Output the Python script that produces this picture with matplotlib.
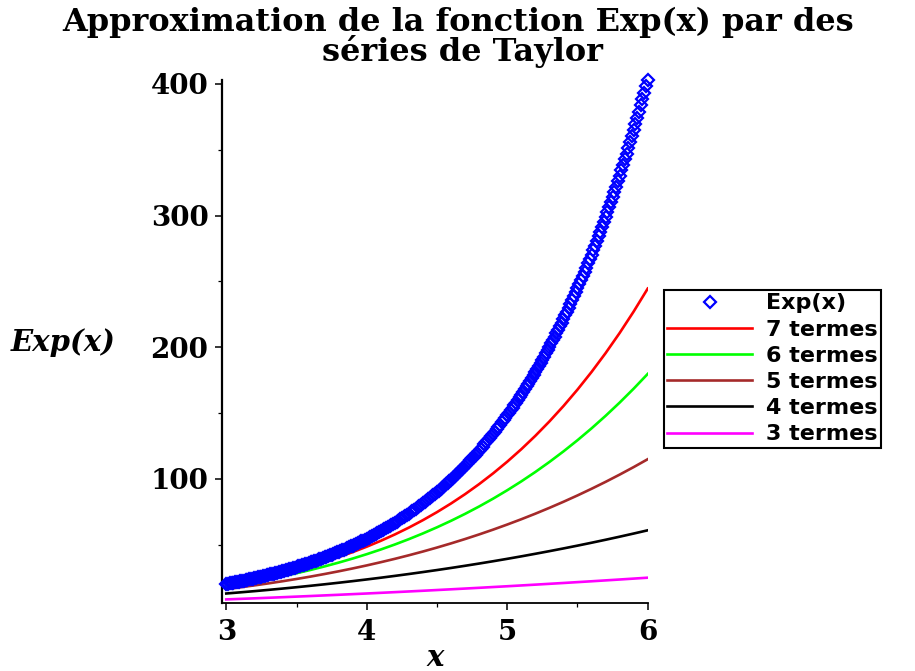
import matplotlib
matplotlib.use("Agg")
import matplotlib.pyplot as plt
from matplotlib.ticker import MultipleLocator

# Exp(x) drawn as points, one every 0.0125 in x
exp_x = [3.0, 3.0125, 3.025, 3.0375, 3.05, 3.0625, 3.075, 3.0875,
         3.1, 3.1125, 3.125, 3.1375, 3.15, 3.1625, 3.175, 3.1875,
         3.2, 3.2125, 3.225, 3.2375, 3.25, 3.2625, 3.275, 3.2875,
         3.3, 3.3125, 3.325, 3.3375, 3.35, 3.3625, 3.375, 3.3875,
         3.4, 3.4125, 3.425, 3.4375, 3.45, 3.4625, 3.475, 3.4875,
         3.5, 3.5125, 3.525, 3.5375, 3.55, 3.5625, 3.575, 3.5875,
         3.6, 3.6125, 3.625, 3.6375, 3.65, 3.6625, 3.675, 3.6875,
         3.7, 3.7125, 3.725, 3.7375, 3.75, 3.7625, 3.775, 3.7875,
         3.8, 3.8125, 3.825, 3.8375, 3.85, 3.8625, 3.875, 3.8875,
         3.9, 3.9125, 3.925, 3.9375, 3.95, 3.9625, 3.975, 3.9875,
         4.0, 4.0125, 4.025, 4.0375, 4.05, 4.0625, 4.075, 4.0875,
         4.1, 4.1125, 4.125, 4.1375, 4.15, 4.1625, 4.175, 4.1875,
         4.2, 4.2125, 4.225, 4.2375, 4.25, 4.2625, 4.275, 4.2875,
         4.3, 4.3125, 4.325, 4.3375, 4.35, 4.3625, 4.375, 4.3875,
         4.4, 4.4125, 4.425, 4.4375, 4.45, 4.4625, 4.475, 4.4875,
         4.5, 4.5125, 4.525, 4.5375, 4.55, 4.5625, 4.575, 4.5875,
         4.6, 4.6125, 4.625, 4.6375, 4.65, 4.6625, 4.675, 4.6875,
         4.7, 4.7125, 4.725, 4.7375, 4.75, 4.7625, 4.775, 4.7875,
         4.8, 4.8125, 4.825, 4.8375, 4.85, 4.8625, 4.875, 4.8875,
         4.9, 4.9125, 4.925, 4.9375, 4.95, 4.9625, 4.975, 4.9875,
         5.0, 5.0125, 5.025, 5.0375, 5.05, 5.0625, 5.075, 5.0875,
         5.1, 5.1125, 5.125, 5.1375, 5.15, 5.1625, 5.175, 5.1875,
         5.2, 5.2125, 5.225, 5.2375, 5.25, 5.2625, 5.275, 5.2875,
         5.3, 5.3125, 5.325, 5.3375, 5.35, 5.3625, 5.375, 5.3875,
         5.4, 5.4125, 5.425, 5.4375, 5.45, 5.4625, 5.475, 5.4875,
         5.5, 5.5125, 5.525, 5.5375, 5.55, 5.5625, 5.575, 5.5875,
         5.6, 5.6125, 5.625, 5.6375, 5.65, 5.6625, 5.675, 5.6875,
         5.7, 5.7125, 5.725, 5.7375, 5.75, 5.7625, 5.775, 5.7875,
         5.8, 5.8125, 5.825, 5.8375, 5.85, 5.8625, 5.875, 5.8875,
         5.9, 5.9125, 5.925, 5.9375, 5.95, 5.9625, 5.975, 5.9875, 6.0]
exp_y = [20.09, 20.34, 20.59, 20.85, 21.12, 21.38, 21.65, 21.92,
         22.20, 22.48, 22.76, 23.05, 23.34, 23.63, 23.93, 24.23,
         24.53, 24.84, 25.15, 25.47, 25.79, 26.12, 26.44, 26.78,
         27.11, 27.45, 27.80, 28.15, 28.50, 28.86, 29.22, 29.59,
         29.96, 30.34, 30.72, 31.11, 31.50, 31.90, 32.30, 32.70,
         33.12, 33.53, 33.95, 34.38, 34.81, 35.25, 35.69, 36.14,
         36.60, 37.06, 37.52, 38.00, 38.47, 38.96, 39.45, 39.95,
         40.45, 40.96, 41.47, 41.99, 42.52, 43.06, 43.60, 44.15,
         44.70, 45.26, 45.83, 46.41, 46.99, 47.58, 48.18, 48.79,
         49.40, 50.02, 50.65, 51.29, 51.94, 52.59, 53.25, 53.92,
         54.60, 55.29, 55.98, 56.69, 57.40, 58.12, 58.85, 59.59,
         60.34, 61.10, 61.87, 62.65, 63.43, 64.23, 65.04, 65.86,
         66.69, 67.53, 68.37, 69.24, 70.11, 70.99, 71.88, 72.78,
         73.70, 74.63, 75.57, 76.52, 77.48, 78.45, 79.44, 80.44,
         81.45, 82.48, 83.51, 84.56, 85.63, 86.70, 87.80, 88.90,
         90.02, 91.15, 92.30, 93.46, 94.63, 95.82, 97.03, 98.25,
         99.48, 100.7, 102.0, 103.3, 104.6, 105.9, 107.2, 108.6,
         109.9, 111.3, 112.7, 114.1, 115.6, 117.0, 118.5, 120.0,
         121.5, 123.0, 124.6, 126.2, 127.7, 129.3, 131.0, 132.6,
         134.3, 136.0, 137.7, 139.4, 141.2, 143.0, 144.7, 146.6,
         148.4, 150.3, 152.2, 154.1, 156.0, 158.0, 160.0, 162.0,
         164.0, 166.1, 168.2, 170.3, 172.4, 174.6, 176.8, 179.0,
         181.3, 183.6, 185.9, 188.2, 190.6, 193.0, 195.4, 197.8,
         200.3, 202.9, 205.4, 208.0, 210.6, 213.3, 215.9, 218.7,
         221.4, 224.2, 227.0, 229.9, 232.8, 235.7, 238.7, 241.7,
         244.7, 247.8, 250.9, 254.0, 257.2, 260.5, 263.7, 267.1,
         270.4, 273.8, 277.3, 280.8, 284.3, 287.9, 291.5, 295.2,
         298.9, 302.6, 306.4, 310.3, 314.2, 318.1, 322.1, 326.2,
         330.3, 334.5, 338.7, 342.9, 347.2, 351.6, 356.0, 360.5,
         365.0, 369.6, 374.3, 379.0, 383.8, 388.6, 393.5, 398.4, 403.4]

# Taylor partial sums, every 0.1
xs = [3.0, 3.1, 3.2, 3.3, 3.4, 3.5, 3.6, 3.7, 3.8, 3.9, 4.0, 4.1, 4.2, 4.3, 4.4, 4.5,
      4.6, 4.7, 4.8, 4.9, 5.0, 5.1, 5.2, 5.3, 5.4, 5.5, 5.6, 5.7, 5.8, 5.9, 6.0]
t7 = [19.41, 21.34, 23.44, 25.73, 28.23, 30.95, 33.92, 37.14, 40.64, 44.44, 48.56,
      53.02, 57.85, 63.07, 68.72, 74.81, 81.38, 88.46, 96.09, 104.30, 113.12,
      122.59, 132.76, 143.67, 155.35, 167.87, 181.26, 195.57, 210.86, 227.19, 244.6]
t6 = [18.40, 20.10, 21.95, 23.94, 26.09, 28.40, 30.89, 33.58, 36.46, 39.55, 42.87,
      46.42, 50.22, 54.29, 58.64, 63.28, 68.22, 73.49, 79.10, 85.07, 91.42,
      98.15, 105.30, 112.89, 120.92, 129.42, 138.42, 147.94, 157.99, 168.60, 179.8]
t5 = [16.38, 17.72, 19.15, 20.68, 22.30, 24.02, 25.85, 27.80, 29.85, 32.03, 34.33,
      36.77, 39.33, 42.04, 44.89, 47.90, 51.06, 54.38, 57.87, 61.53, 65.38,
      69.40, 73.62, 78.04, 82.65, 87.48, 92.53, 97.79, 103.29, 109.02, 115.0]
t4 = [13.00, 13.87, 14.78, 15.74, 16.73, 17.77, 18.86, 19.99, 21.17, 22.39, 23.67,
      24.99, 26.37, 27.80, 29.28, 30.81, 32.40, 34.05, 35.75, 37.51, 39.33,
      41.21, 43.16, 45.16, 47.22, 49.35, 51.55, 53.81, 56.14, 58.54, 61.0]
t3 = [8.50, 8.91, 9.32, 9.75, 10.18, 10.63, 11.08, 11.55, 12.02, 12.51, 13.00,
      13.51, 14.02, 14.55, 15.08, 15.63, 16.18, 16.75, 17.32, 17.91, 18.50,
      19.11, 19.72, 20.35, 20.98, 21.63, 22.28, 22.95, 23.62, 24.31, 25.0]

series = [(t7, "7 termes", "#ff0000"),
          (t6, "6 termes", "#00ff00"),
          (t5, "5 termes", "#a52a2a"),
          (t4, "4 termes", "#000000"),
          (t3, "3 termes", "#ff00ff")]

fig = plt.figure(figsize=(9.15, 6.71), dpi=100)
ax = fig.add_axes([0.2430, 0.1006, 0.7079 - 0.2430, 0.8815 - 0.1006])

handles = []
h, = ax.plot(exp_x, exp_y, linestyle="none", marker="D", markersize=5.8,
             markerfacecolor="none", markeredgecolor="#0000ff", markeredgewidth=1.6,
             clip_on=False, zorder=5, label="Exp(x)")
handles.append(h)
for vals, lab, col in series:
    h, = ax.plot(xs, vals, color=col, lw=1.9, label=lab, zorder=3)
    handles.append(h)

ax.set_xlim(2.972, 6.0)
ax.set_ylim(5.4, 403.4)

for s in ["top", "right"]:
    ax.spines[s].set_visible(False)
ax.spines["left"].set_linewidth(1.6)
ax.spines["bottom"].set_linewidth(1.3)

ax.set_xticks([3, 4, 5, 6])
ax.set_yticks([100, 200, 300, 400])
ax.xaxis.set_minor_locator(MultipleLocator(0.5))
ax.yaxis.set_minor_locator(MultipleLocator(50))
ax.tick_params(axis="both", which="major", length=5, width=1.1, direction="out")
ax.tick_params(axis="both", which="minor", length=3, width=0.9, direction="out")
ax.tick_params(axis="y", which="major", pad=5)
ax.tick_params(axis="x", which="major", pad=6)
for lbl in ax.get_xticklabels() + ax.get_yticklabels():
    lbl.set_fontfamily("DejaVu Serif")
    lbl.set_fontweight("bold")
    lbl.set_fontsize(20)

# titles and axis labels
fig.text(458 / 915, 1 - 31 / 671, "Approximation de la fonction Exp(x) par des",
         ha="center", va="baseline", fontsize=23, fontweight="bold", family="DejaVu Serif")
fig.text(463 / 915, 1 - 61 / 671, "séries de Taylor",
         ha="center", va="baseline", fontsize=23, fontweight="bold", family="DejaVu Serif")
fig.text(11 / 915, 1 - 343 / 671, "Exp(x)", ha="left", va="center", fontsize=21,
         fontweight="bold", fontstyle="italic", family="DejaVu Serif")
fig.text(435 / 915, 1 - 657 / 671, "x", ha="center", va="center", fontsize=21,
         fontweight="bold", fontstyle="italic", family="DejaVu Serif")

leg = fig.legend(handles=handles, loc="upper left",
                 bbox_to_anchor=(664 / 915, 1 - 290 / 671),
                 bbox_transform=fig.transFigure, borderaxespad=0,
                 prop={"family": "DejaVu Sans", "weight": "bold", "size": 16},
                 fancybox=False, framealpha=1, edgecolor="black",
                 handlelength=3.8, handletextpad=0.63, labelspacing=0.28,
                 borderpad=0.15, numpoints=1)
leg.get_frame().set_linewidth(1.5)

fig.savefig("out.png", dpi=100)
